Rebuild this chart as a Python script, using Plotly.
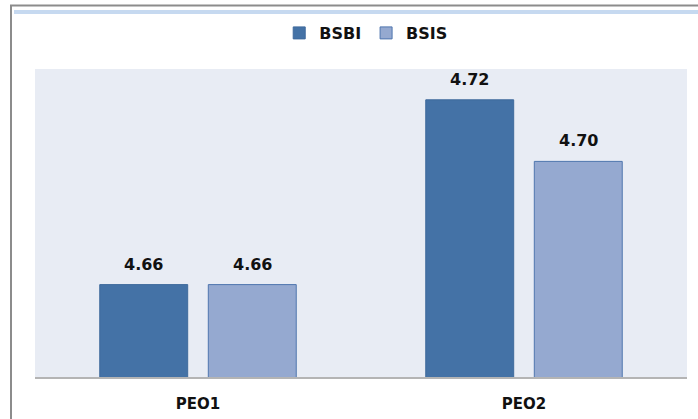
import plotly.graph_objects as go

categories = ["PEO1", "PEO2"]
bsbi = [4.66, 4.72]
bsis = [4.66, 4.70]
y_range = [4.63, 4.73]

FONT = "DejaVu Sans"
C_BSBI = "#4472A6"
C_BSIS = "#95A9D0"
C_EDGE = "#4F76AE"

W, H = 698, 419
ML, MR, MT, MB = 35, 11, 69, 42
BARGAP, GROUPGAP = 0.334, 0.19

plot_w = W - ML - MR
plot_h = H - MT - MB
cat_w = plot_w / len(categories)
slot = cat_w * (1 - BARGAP) / 2
half = slot / 2


def px_x(px):
    return (px - ML) / plot_w


def px_y(py):
    return (H - MB - py) / plot_h


fig = go.Figure()
fig.add_trace(go.Bar(
    name="BSBI", x=categories, y=bsbi,
    marker=dict(color=C_BSBI, line=dict(color="#3F6A9C", width=1)),
))
fig.add_trace(go.Bar(
    name="BSIS", x=categories, y=bsis,
    marker=dict(color=C_BSIS, line=dict(color=C_EDGE, width=1)),
))

annotations = []
for vals, sh in ((bsbi, -half), (bsis, half)):
    for c, v in zip(categories, vals):
        annotations.append(dict(
            x=c, y=v, xref="x", yref="y", text=f"{v:.2f}", showarrow=False,
            xanchor="center", yanchor="bottom", xshift=sh, yshift=9,
            font=dict(family=FONT, size=16, color="#111111", weight="bold"),
        ))

fig.update_layout(
    width=W, height=H,
    margin=dict(l=ML, r=MR, t=MT, b=MB, autoexpand=False),
    paper_bgcolor="white",
    plot_bgcolor="#E8ECF4",
    barmode="group",
    bargap=BARGAP,
    bargroupgap=GROUPGAP,
    font=dict(family=FONT, size=15, color="#111111"),
    showlegend=True,
    legend=dict(
        orientation="h", x=0.508, xanchor="center", y=1 - 33 / H, yref="container",
        yanchor="middle",
        font=dict(family=FONT, size=16, color="#111111", weight="bold"),
        traceorder="normal", itemwidth=30,
    ),
    xaxis=dict(
        showline=True, linecolor="#B4B4B4", linewidth=2,
        showgrid=False, ticks="", ticklabelstandoff=12,
        tickfont=dict(family=FONT, size=15, color="#111111", weight="bold"),
    ),
    yaxis=dict(
        range=y_range, visible=False, showgrid=False, zeroline=False,
    ),
    annotations=annotations,
    shapes=[
        dict(type="line", xref="paper", yref="paper", x0=px_x(11), x1=px_x(11),
             y0=px_y(5), y1=px_y(430), line=dict(color="#8C8C8C", width=2)),
        dict(type="line", xref="paper", yref="paper", x0=px_x(10), x1=px_x(710),
             y0=px_y(5.5), y1=px_y(5.5), line=dict(color="#8C8C8C", width=2)),
        dict(type="line", xref="paper", yref="paper", x0=px_x(14), x1=px_x(710),
             y0=px_y(12), y1=px_y(12), line=dict(color="#C6D9F0", width=4)),
    ],
)

fig.write_html("out.html", config={"displayModeBar": False},
               post_script="document.body.style.margin='0px';")
